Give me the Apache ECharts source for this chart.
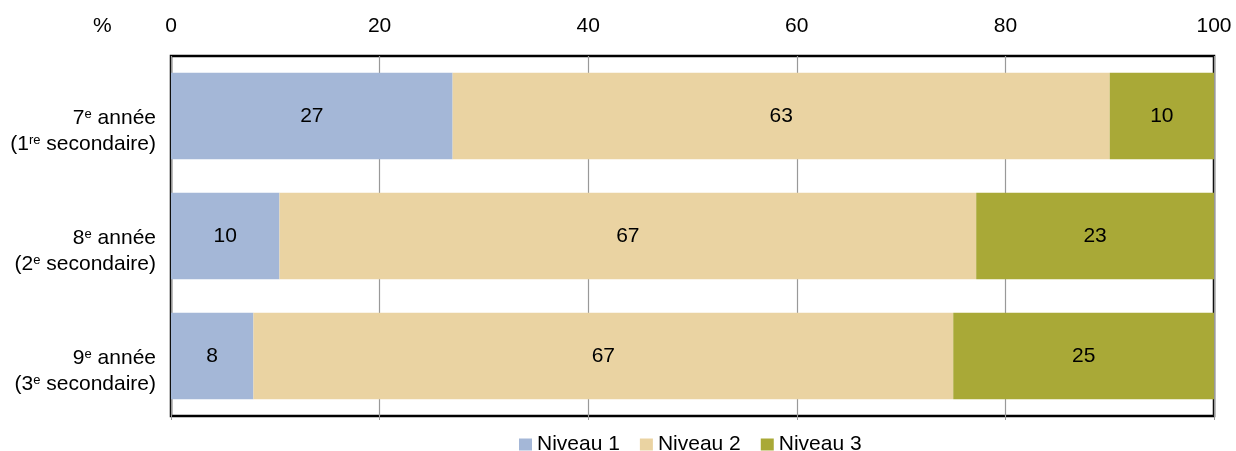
<!DOCTYPE html>
<html><head><meta charset="utf-8">
<script src="https://cdn.jsdelivr.net/npm/echarts@6/dist/echarts.min.js"></script>
<style>html,body{margin:0;padding:0;background:#fff}#c{width:1236px;height:451px}</style>
</head><body><div id="c"></div>
<script>
const categories = ['g7', 'g8', 'g9'];
const categoryLabels = [
  '{n|7}{s|e}{n| année}\n{n|(1}{s|re}{n| secondaire)}',
  '{n|8}{s|e}{n| année}\n{n|(2}{s|e}{n| secondaire)}',
  '{n|9}{s|e}{n| année}\n{n|(3}{s|e}{n| secondaire)}'
];
const seriesNames = ['Niveau 1', 'Niveau 2', 'Niveau 3'];
const niveau1 = [27, 10.4, 7.9];
const niveau2 = [63, 66.8, 67.1];
const niveau3 = [10, 22.8, 25];
const xTicks = [0, 20, 40, 60, 80, 100];
const colors = ['#a4b7d7', '#ead3a2', '#a9a937'];

const font = '"Liberation Sans", Arial, sans-serif';
const FS = 21;
const chart = echarts.init(document.getElementById('c'));
const mk = (name, data, color) => ({
  name, type: 'bar', stack: 'total', data,
  barCategoryGap: '28%',
  itemStyle: { color },
  label: { show: true, position: 'inside', color: '#000', fontSize: FS, fontFamily: font,
    formatter: p => Math.round(p.value) }
});
chart.setOption({
  animation: false,
  textStyle: { fontFamily: font },
  grid: { left: 171, right: 22, top: 56, bottom: 35, show: true, borderColor: '#000', borderWidth: 2.5, backgroundColor: 'transparent' },
  legend: {
    top: 429, left: 514, itemWidth: 13, itemHeight: 12, itemGap: 20,
    icon: 'rect', textStyle: { fontSize: FS, color: '#000', fontFamily: font },
    data: seriesNames
  },
  graphic: [{ type: 'text', left: 93, top: 16, style: { text: '%', fontSize: FS, fill: '#000', fontFamily: font } }],
  xAxis: [{
    type: 'value', position: 'top', min: xTicks[0], max: xTicks[xTicks.length - 1], interval: 20,
    axisLine: { show: false }, axisTick: { show: false },
    axisLabel: { margin: 19, fontSize: FS, color: '#000', fontFamily: font },
    splitLine: { show: true, lineStyle: { color: '#999', width: 1.2 } }
  }, {
    type: 'value', position: 'bottom', min: 0, max: 100, interval: 20,
    axisLine: { show: false }, axisTick: { show: true, length: 4, lineStyle: { color: '#999' } },
    axisLabel: { show: false }, splitLine: { show: false }
  }],
  yAxis: {
    type: 'category', inverse: true, data: categories,
    axisLine: { show: false }, axisTick: { show: false },
    axisLabel: {
      margin: 15, align: 'right', formatter: (v, i) => categoryLabels[i],
      padding: [30, 0, 0, 0],
      rich: {
        n: { fontSize: FS, color: '#000', fontFamily: font, lineHeight: 26 },
        s: { fontSize: 13, color: '#000', fontFamily: font, lineHeight: 26, verticalAlign: 'top', padding: [3, 0, 0, 0] }
      }
    }
  },
  series: [mk(seriesNames[0], niveau1, colors[0]), mk(seriesNames[1], niveau2, colors[1]), mk(seriesNames[2], niveau3, colors[2])]
});
</script></body></html>
